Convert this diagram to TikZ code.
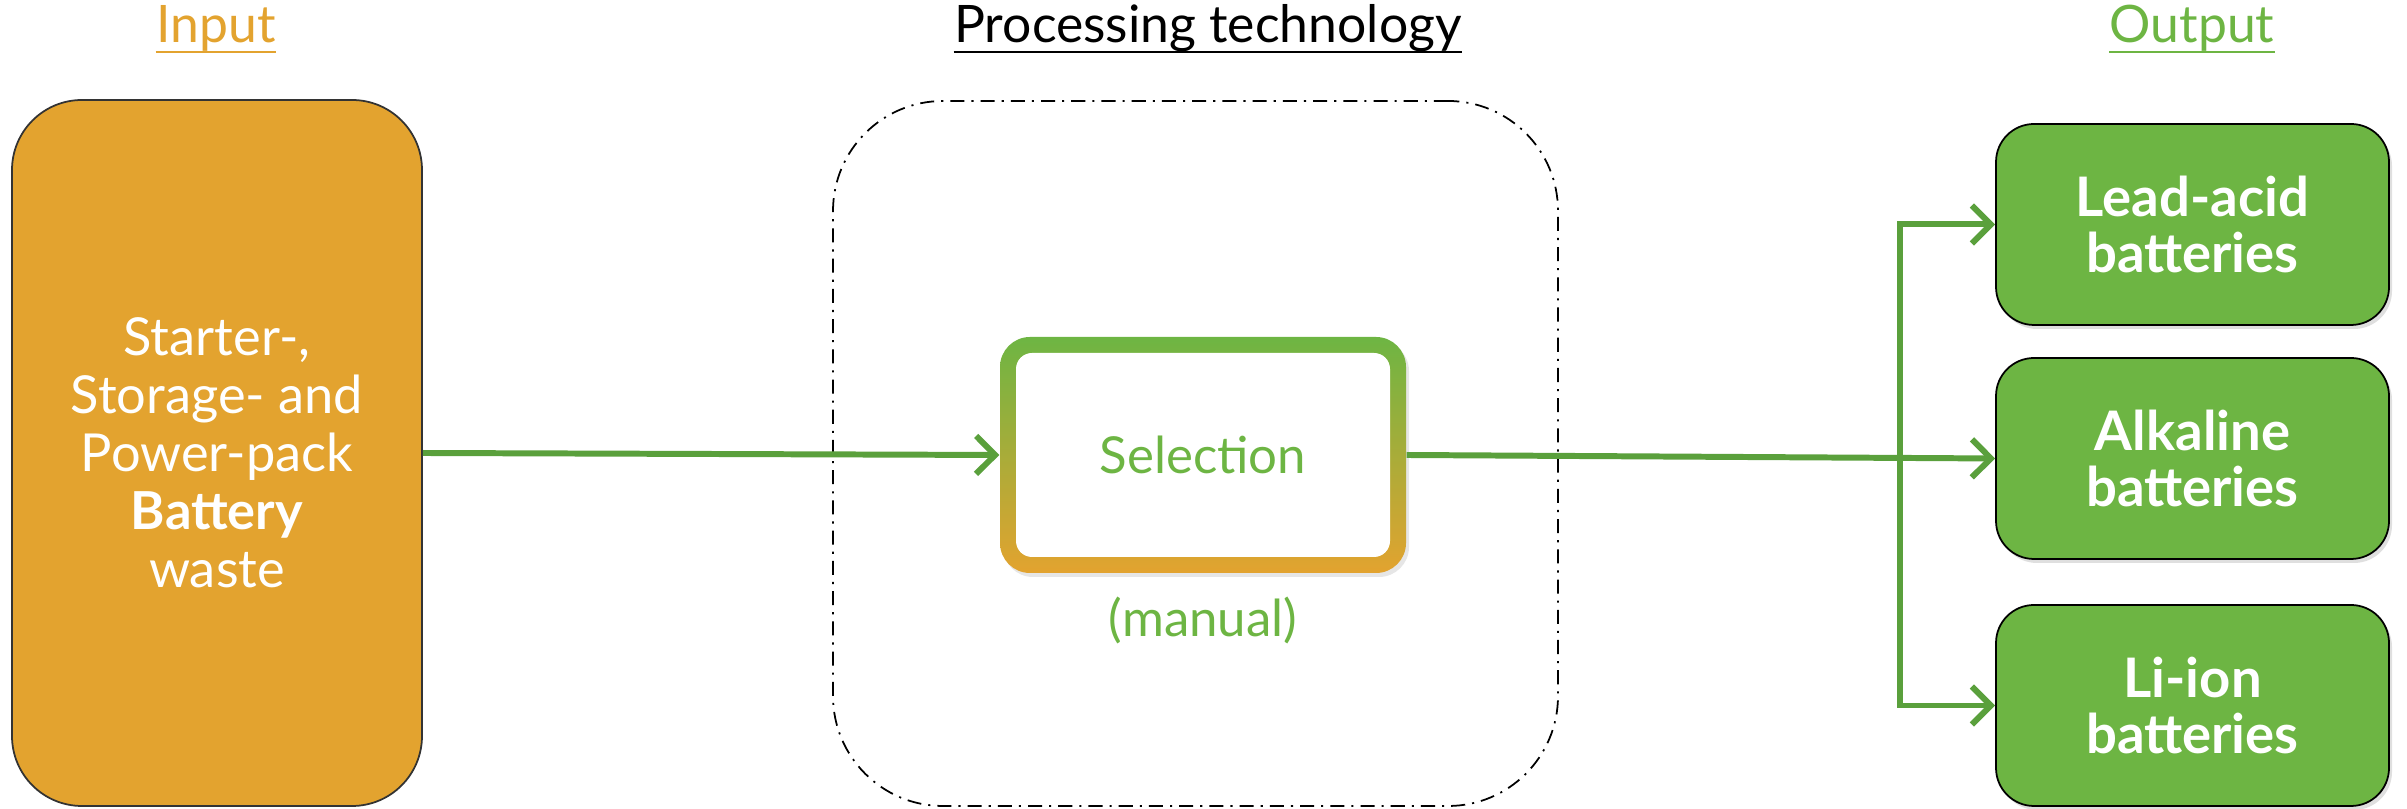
\documentclass[tikz,border=0pt]{standalone}
\usepackage{fontspec}
\setmainfont{Lato}
\usetikzlibrary{calc}
\usetikzlibrary{arrows.meta}
\usetikzlibrary{shadows}

\definecolor{wasteorange}{HTML}{E3A32F}
\definecolor{outgreen}{HTML}{6DB543}
\definecolor{flowgreen}{HTML}{5AA03C}

\tikzset{
  flow/.style={draw=flowgreen, line width=1.7pt, -{Straight Barb[length=1.9mm,width=3.8mm]}},
  title/.style={font=\fontsize{14.7}{18}\selectfont, inner sep=0pt},
  underl/.style={line width=0.6pt},
  outbox/.style={draw=black, line width=0.5pt, fill=outgreen, rounded corners=0.38cm,
    minimum width=3.93cm, minimum height=2.01cm, text=white, align=center,
    font=\fontsize{15.5}{16}\selectfont\bfseries,
    drop shadow={opacity=0.25, shadow xshift=0.03cm, shadow yshift=-0.04cm}},
  selbox/.style={rounded corners=0.3cm, minimum width=4.06cm, minimum height=2.36cm,
    top color=outgreen, bottom color=wasteorange, text=outgreen,
    font=\fontsize{14.5}{17}\selectfont,
    drop shadow={opacity=0.2, shadow xshift=0.03cm, shadow yshift=-0.04cm},
    path picture={\fill[white, rounded corners=0.16cm]
      ($(path picture bounding box.south west)+(0.16,0.16)$) rectangle
      ($(path picture bounding box.north east)-(0.16,0.16)$);}}
}

\begin{document}
\begin{tikzpicture}
    % Define the size of the canvas
    \def\w{24.07}
    \def\h{8.09}
    \useasboundingbox (0,0) rectangle (\w,\h);

    % Draw column titles
    \node[title, text=wasteorange] (tin) at (2.16,7.81) {Input};
    \node[title, text=black] (tproc) at (12.08,7.81) {Processing technology};
    \node[title, text=outgreen] (tout) at (21.92,7.81) {Output};
    \draw[underl, wasteorange] ([yshift=-0.1cm]tin.base west) -- ([yshift=-0.1cm]tin.base east);
    \draw[underl, black] ([yshift=-0.1cm]tproc.base west) -- ([yshift=-0.1cm]tproc.base east);
    \draw[underl, outgreen] ([yshift=-0.1cm]tout.base west) -- ([yshift=-0.1cm]tout.base east);

    % Draw input
    \node[draw=black!80, line width=0.5pt, fill=wasteorange, rounded corners=0.7cm,
      minimum width=4.10cm, minimum height=7.06cm, text=white, align=center,
      font=\fontsize{14.9}{16.5}\selectfont] (waste) at (2.17,3.56)
      {Starter-,\\Storage- and\\Power-pack\\\textbf{Battery}\\waste};

    % Draw processing frame and step
    \node[draw=black, line width=0.5pt, dash pattern=on 4pt off 2pt on 0.6pt off 2pt,
      rounded corners=1.1cm, minimum width=7.25cm, minimum height=7.05cm] (proc) at (11.955,3.555) {};
    \node[selbox] (sel) at (12.03,3.54) {Selection};
    \node[text=outgreen, font=\fontsize{14.5}{17}\selectfont] (manual) at (12.03,1.89) {(manual)};

    % Draw outputs
    \node[outbox] (lead) at (21.925,5.845) {Lead-acid\\batteries};
    \node[outbox] (alk) at (21.925,3.505) {Alkaline\\batteries};
    \node[outbox] (liion) at (21.925,1.035) {Li-ion\\batteries};

    % Draw flows
    \coordinate (fork) at (19.00,3.52);
    \draw[flow] (waste.east) -- (sel.west);
    \draw[flow] (sel.east) -- (alk.west);
    \draw[flow] (fork) |- (lead.west);
    \draw[flow] (fork) |- (liion.west);
\end{tikzpicture}
\end{document}
